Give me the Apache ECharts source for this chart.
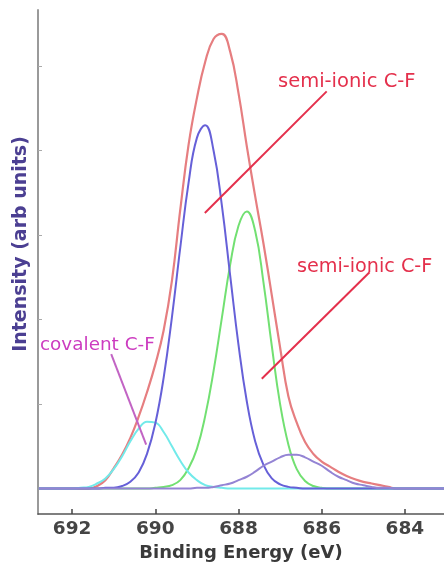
<!DOCTYPE html>
<html>
<head>
<meta charset="utf-8">
<script src="https://cdn.jsdelivr.net/npm/echarts@6/dist/echarts.min.js"></script>
<style>
  html, body { margin: 0; padding: 0; background: #ffffff; }
  #chart { width: 444px; height: 567px; }
</style>
</head>
<body>
<div id="chart"></div>
<script>
// Binding energy grid (eV), high to low
const energy = [692.8, 692.6, 692.4, 692.2, 692.0, 691.8, 691.6, 691.4, 691.2, 691.0,
  690.8, 690.6, 690.4, 690.2, 690.0, 689.8, 689.6, 689.4, 689.2, 689.0,
  688.8, 688.6, 688.4, 688.2, 688.0, 687.8, 687.6, 687.4, 687.2, 687.0,
  686.8, 686.6, 686.4, 686.2, 686.0, 685.8, 685.6, 685.4, 685.2, 685.0,
  684.8, 684.6, 684.4, 684.2, 684.0, 683.8, 683.6, 683.4, 683.2, 683.0];

// Measured F 1s envelope
const envelope = [0, 0, 0, 0, 0, 0, 0, 0.03, 0.1, 0.24,
  0.4, 0.6, 0.85, 1.14, 1.47, 1.87, 2.46, 3.3, 4.07, 4.62,
  5.05, 5.32, 5.38, 5.17, 4.68, 4.05, 3.46, 2.9, 2.29, 1.67,
  1.09, 0.78, 0.55, 0.41, 0.32, 0.26, 0.2, 0.15, 0.11, 0.08,
  0.06, 0.04, 0.02, 0, 0, 0, 0, 0, 0, 0];

// Fitted components
const semiIonicA = [0, 0, 0, 0, 0, 0, 0, 0, 0.01, 0.01,
  0.03, 0.08, 0.19, 0.41, 0.77, 1.31, 2.03, 2.85, 3.62, 4.15,
  4.3, 4.0, 3.35, 2.52, 1.7, 1.03, 0.56, 0.28, 0.12, 0.05,
  0.02, 0.01, 0, 0, 0, 0, 0, 0, 0, 0,
  0, 0, 0, 0, 0, 0, 0, 0, 0, 0];

const semiIonicB = [0, 0, 0, 0, 0, 0, 0, 0, 0, 0,
  0, 0, 0, 0, 0.01, 0.02, 0.04, 0.1, 0.24, 0.47,
  0.86, 1.39, 2.02, 2.65, 3.11, 3.28, 3.05, 2.44, 1.69, 1.0,
  0.52, 0.23, 0.09, 0.03, 0.01, 0, 0, 0, 0, 0,
  0, 0, 0, 0, 0, 0, 0, 0, 0, 0];

const covalent = [0, 0, 0, 0, 0, 0.01, 0.02, 0.06, 0.12, 0.23,
  0.38, 0.56, 0.71, 0.79, 0.78, 0.67, 0.5, 0.33, 0.19, 0.1,
  0.04, 0.02, 0.01, 0, 0, 0, 0, 0, 0, 0,
  0, 0, 0, 0, 0, 0, 0, 0, 0, 0,
  0, 0, 0, 0, 0, 0, 0, 0, 0, 0];

const lowEnergy = [0, 0, 0, 0, 0, 0, 0, 0, 0, 0,
  0, 0, 0, 0, 0, 0, 0, 0, 0, 0.01,
  0.01, 0.02, 0.04, 0.06, 0.1, 0.14, 0.2, 0.27, 0.32, 0.37,
  0.4, 0.4, 0.37, 0.32, 0.27, 0.2, 0.14, 0.1, 0.06, 0.04,
  0.02, 0.01, 0.01, 0, 0, 0, 0, 0, 0, 0];

const energyTicks = [692, 690, 688, 686, 684];
const intensityTicks = [1, 2, 3, 4, 5];

const FONT = 'DejaVu Sans';

function pairs(values) {
  return energy.map((e, i) => [e, values[i]]);
}

function curve(name, values, color, width) {
  return {
    name: name,
    type: 'line',
    data: pairs(values),
    showSymbol: false,
    smooth: 0.45,
    lineStyle: { color: color, width: width },
    silent: true,
    z: 2
  };
}

const chart = echarts.init(document.getElementById('chart'), null, { renderer: 'canvas' });

const series = [
  curve('envelope', envelope, '#e67e80', 2.2),
  curve('semi-ionic B', semiIonicB, '#72e072', 2),
  curve('covalent', covalent, '#72eaea', 2),
  curve('semi-ionic A', semiIonicA, '#6660d8', 2),
  curve('low energy', lowEnergy, '#9484d4', 2)
];

// Pointer lines from the labels to the peaks, placed in data space
series[4].markLine = {
  silent: true,
  symbol: ['none', 'none'],
  label: { show: false },
  data: [
    [{ coord: [685.88, 4.70], lineStyle: { color: '#e4304c', width: 2, type: 'solid' } }, { coord: [688.81, 3.26] }],
    [{ coord: [684.85, 2.56], lineStyle: { color: '#e4304c', width: 2, type: 'solid' } }, { coord: [687.44, 1.30] }],
    [{ coord: [691.06, 1.59], lineStyle: { color: '#c264c4', width: 2, type: 'solid' } }, { coord: [690.22, 0.52] }]
  ]
};

chart.setOption({
  animation: false,
  backgroundColor: '#ffffff',
  grid: { left: 38, right: 0, top: 10, bottom: 44, containLabel: false },
  xAxis: {
    type: 'value',
    inverse: true,
    min: 683.06,
    max: 692.82,
    name: 'Binding Energy (eV)',
    nameLocation: 'middle',
    nameGap: 26,
    nameTextStyle: { fontFamily: FONT, fontWeight: 'bold', fontSize: 18, color: '#3a3a3a' },
    axisLine: { onZero: false, lineStyle: { color: '#555555', width: 1.5 } },
    axisTick: { show: true, inside: true, length: 5, customValues: energyTicks, lineStyle: { color: '#444444', width: 1.5 } },
    axisLabel: { show: true, customValues: energyTicks, margin: 6, fontFamily: FONT, fontWeight: 'bold', fontSize: 18.5, color: '#444444' },
    splitLine: { show: false }
  },
  yAxis: {
    type: 'value',
    min: -0.302,
    max: 5.663,
    axisLine: { onZero: false, lineStyle: { color: '#9a9a9a', width: 2 } },
    axisTick: { show: true, inside: true, length: 4, customValues: intensityTicks, lineStyle: { color: '#aaaaaa', width: 1 } },
    axisLabel: { show: false },
    splitLine: { show: false }
  },
  graphic: [
    {
      type: 'text', x: 21, y: 244, rotation: Math.PI / 2,
      style: { text: 'Intensity (arb units)', fontFamily: FONT, fontWeight: 'bold', fontSize: 19, fill: '#4b3f92', align: 'center', verticalAlign: 'middle' }
    },
    {
      type: 'text', x: 278, y: 82,
      style: { text: 'semi-ionic C-F', fontFamily: FONT, fontSize: 19.5, fill: '#e4304c', align: 'left', verticalAlign: 'middle' }
    },
    {
      type: 'text', x: 297, y: 267,
      style: { text: 'semi-ionic C-F', fontFamily: FONT, fontSize: 19.2, fill: '#e4304c', align: 'left', verticalAlign: 'middle' }
    },
    {
      type: 'text', x: 40, y: 345,
      style: { text: 'covalent C-F', fontFamily: FONT, fontSize: 18.4, fill: '#cc3cc0', align: 'left', verticalAlign: 'middle' }
    }
  ],
  series: series
});
</script>
</body>
</html>
